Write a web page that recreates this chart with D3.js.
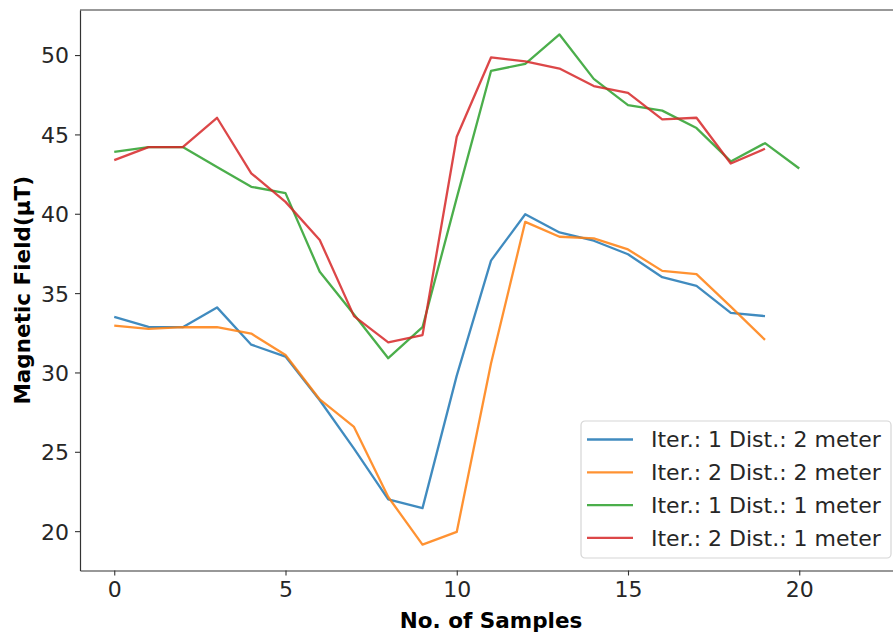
<!DOCTYPE html>
<html>
<head>
<meta charset="utf-8">
<script src="https://cdn.jsdelivr.net/npm/d3@7"></script>
<style>
  body { margin: 0; background: #fff; }
  svg { display: block; font-family: "DejaVu Sans", sans-serif; }
</style>
</head>
<body>
<svg></svg>
<script>
const size = {w: 893, h: 635};
const svg = d3.select('svg');
svg.attr('width', size.w).attr('height', size.h);

// data
const samples = d3.range(0, 21);
const iter1Dist2 = [33.5, 32.87, 32.85, 34.1, 31.75, 31.0, 28.25, 25.2, 22.0, 21.45,
    29.8, 37.05, 39.97, 38.82, 38.3, 37.45, 36.0, 35.45, 33.75, 33.55];
const iter2Dist2 = [32.95, 32.75, 32.85, 32.85, 32.45, 31.1, 28.3, 26.57, 22.15, 19.15,
    19.95, 30.57, 39.49, 38.55, 38.45, 37.75, 36.4, 36.2, 34.15, 32.05];
const iter1Dist1 = [43.9, 44.2, 44.2, 42.95, 41.7, 41.3, 36.35, 33.65, 30.9, 32.85,
    41.0, 49.0, 49.45, 51.3, 48.5, 46.85, 46.5, 45.4, 43.3, 44.45, 42.85];
const iter2Dist1 = [43.38, 44.2, 44.2, 46.05, 42.55, 40.75, 38.35, 33.55, 31.9, 32.35,
    44.85, 49.85, 49.6, 49.15, 48.05, 47.62, 45.95, 46.05, 43.17, 44.1];
const seriesNames = ['Iter.: 1 Dist.: 2 meter', 'Iter.: 2 Dist.: 2 meter',
    'Iter.: 1 Dist.: 1 meter', 'Iter.: 2 Dist.: 1 meter'];
const colors = ['#1f77b4', '#ff7f0e', '#2ca02c', '#d62728'];
const xTicks = [0, 5, 10, 15, 20];
const yTicks = [20, 25, 30, 35, 40, 45, 50];

const series = [iter1Dist2, iter2Dist2, iter1Dist1, iter2Dist1].map((vals, i) => ({
    name: seriesNames[i],
    color: colors[i],
    values: vals.map((v, j) => ({x: samples[j], y: v}))
}));

const plot = {l: 80, r: 902, t: 10, b: 570.5};

const x = d3.scaleLinear().domain([-1, 23]).range([plot.l, plot.r]);
const y = d3.scaleLinear().domain([17.52, 52.84]).range([plot.b, plot.t]);

const line = d3.line().x(d => x(d.x)).y(d => y(d.y));

svg.append('g').classed('lines', true)
    .selectAll('path')
    .data(series)
    .enter()
    .append('path')
    .attr('d', d => line(d.values))
    .attr('fill', 'none')
    .attr('stroke', d => d.color)
    .attr('stroke-opacity', 0.85)
    .attr('stroke-width', 2.3)
    .attr('stroke-linejoin', 'round');

// axes
let xAxis = svg.append('g')
    .attr('transform', 'translate(0,' + plot.b + ')')
    .call(d3.axisBottom(x).tickValues(xTicks).tickSize(5).tickSizeOuter(0)
        .tickPadding(6).tickFormat(d3.format('d')));
let yAxis = svg.append('g')
    .attr('transform', 'translate(' + plot.l + ',0)')
    .call(d3.axisLeft(y).tickValues(yTicks).tickSize(5).tickSizeOuter(0)
        .tickPadding(6).tickFormat(d3.format('d')));

[xAxis, yAxis].forEach(a => {
    a.select('.domain').attr('stroke', '#333').attr('stroke-width', 1.2);
    a.selectAll('.tick line').attr('stroke', '#333').attr('stroke-width', 1.1);
    a.selectAll('.tick text')
        .attr('fill', '#262626')
        .style('font-family', '"DejaVu Sans", sans-serif')
        .style('font-size', '22px');
});
yAxis.selectAll('.tick text').attr('dy', '0.36em');

// top spine
svg.append('line')
    .attr('x1', plot.l).attr('x2', plot.r)
    .attr('y1', plot.t).attr('y2', plot.t)
    .attr('stroke', '#333').attr('stroke-width', 1.2);

// axis labels
svg.append('text')
    .attr('x', (plot.l + plot.r) / 2)
    .attr('y', 628)
    .attr('text-anchor', 'middle')
    .style('font-weight', 'bold')
    .style('font-size', '21.5px')
    .text('No. of Samples');

svg.append('text')
    .attr('transform', 'translate(30,' + (plot.t + plot.b) / 2 + ') rotate(-90)')
    .attr('text-anchor', 'middle')
    .style('font-weight', 'bold')
    .style('font-size', '21.5px')
    .text('Magnetic Field(μT)');

// legend
let legend = svg.append('g').attr('transform', 'translate(581,421)');
legend.append('rect')
    .attr('width', 310).attr('height', 137)
    .attr('rx', 4)
    .attr('fill', 'rgba(255,255,255,0.8)')
    .attr('stroke', '#d6d6d6')
    .attr('stroke-width', 1.2);

let items = legend.selectAll('g.item')
    .data(series)
    .enter()
    .append('g')
    .classed('item', true)
    .attr('transform', (d, i) => 'translate(0,' + (18.5 + i * 32.8) + ')');
items.append('line')
    .attr('x1', 6).attr('x2', 52)
    .attr('stroke', d => d.color)
    .attr('stroke-opacity', 0.85)
    .attr('stroke-width', 2.3);
items.append('text')
    .attr('x', 70)
    .attr('dy', '0.36em')
    .attr('fill', '#262626')
    .style('font-size', '22px')
    .text(d => d.name);
</script>
</body>
</html>
